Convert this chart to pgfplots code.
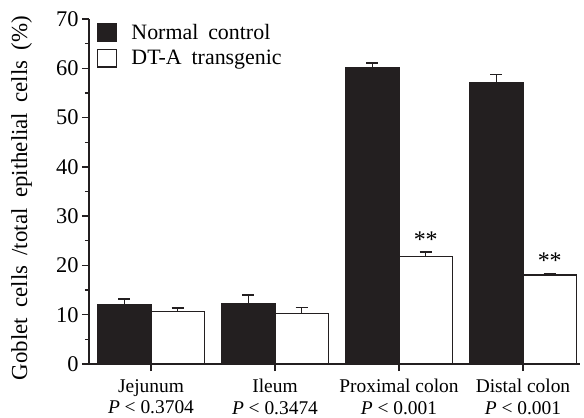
\documentclass[border=0pt]{standalone}
\usepackage{pgfplots}
\pgfplotsset{compat=1.18}
\usepackage{fontspec}
\setmainfont{Liberation Serif}
\definecolor{ink}{RGB}{35,31,32}
\newcommand{\wsp}{\hspace{0.45em}}
\begin{document}
\begin{tikzpicture}
\path[use as bounding box] (-89bp,-54bp) rectangle (495bp,364bp);
\begin{axis}[
  scale only axis,
  width=491bp, height=345bp,
  xmin=-0.5, xmax=3.46,
  ymin=0, ymax=70,
  ybar=0pt, bar width=53.5bp,
  axis lines=left,
  axis line style={-, line width=1.4bp, ink},
  ytick={0,10,...,70},
  minor ytick={5,15,...,65},
  xtick={0,1,2,3},
  xticklabels={Jejunum\\\textit{P} < 0.3704, Ileum\\\textit{P} < 0.3474, Proximal colon\\\textit{P} < 0.001, Distal colon\\\textit{P} < 0.001},
  x tick label style={align=center, font=\fontsize{19.5}{22}\selectfont, inner sep=2bp, yshift=-6bp},
  y tick label style={font=\fontsize{22.5}{24}\selectfont},
  /pgf/number format/assume math mode=true,
  tick align=outside,
  major tick length=7bp,
  minor tick length=4bp,
  tick style={line width=1.4bp, ink},
  ylabel={Goblet\wsp cells\wsp /total\wsp epithelial\wsp cells\wsp (\%)},
  ylabel style={font=\fontsize{23}{26}\selectfont, at={(axis description cs:-0.137,0.481)}, anchor=center, rotate=0},
  legend style={at={(axis description cs:0.016,0.99)}, anchor=north west, draw=none, fill=none, inner sep=0pt, font=\fontsize{22}{27}\selectfont, legend cell align=left, row sep=5bp},
  legend image code/.code={\draw[#1, line width=1.4bp] (0bp,-8.5bp) rectangle (19bp,9bp);},
  clip=false,
]
\addplot[fill=ink, draw=ink, line width=1.2bp,
  error bars/.cd, y dir=plus, y explicit, error bar style={line width=1.4bp, ink}, error mark options={rotate=90, line width=1.4bp, mark size=6bp, ink}]
  coordinates {(0,12.0) +- (0,1.2) (1,12.3) +- (0,1.7) (2,60.2) +- (0,0.9) (3,57.1) +- (0,1.6)};
\addlegendentry{\hspace{12bp}Normal\wsp control}
\addplot[fill=white, draw=ink, line width=1.4bp,
  error bars/.cd, y dir=plus, y explicit, error bar style={line width=1.4bp, ink}, error mark options={rotate=90, line width=1.4bp, mark size=6bp, ink}]
  coordinates {(0,10.6) +- (0,0.8) (1,10.2) +- (0,1.3) (2,21.8) +- (0,0.9) (3,18.05) +- (0,0.35)};
\addlegendentry{\hspace{12bp}DT-A\wsp transgenic}
\node[font=\fontsize{24}{26}\selectfont] at ([xshift=26.75bp]axis cs:2,25.3) {**};
\node[font=\fontsize{24}{26}\selectfont] at ([xshift=26.75bp]axis cs:3,21.0) {**};
\end{axis}
\end{tikzpicture}
\end{document}
